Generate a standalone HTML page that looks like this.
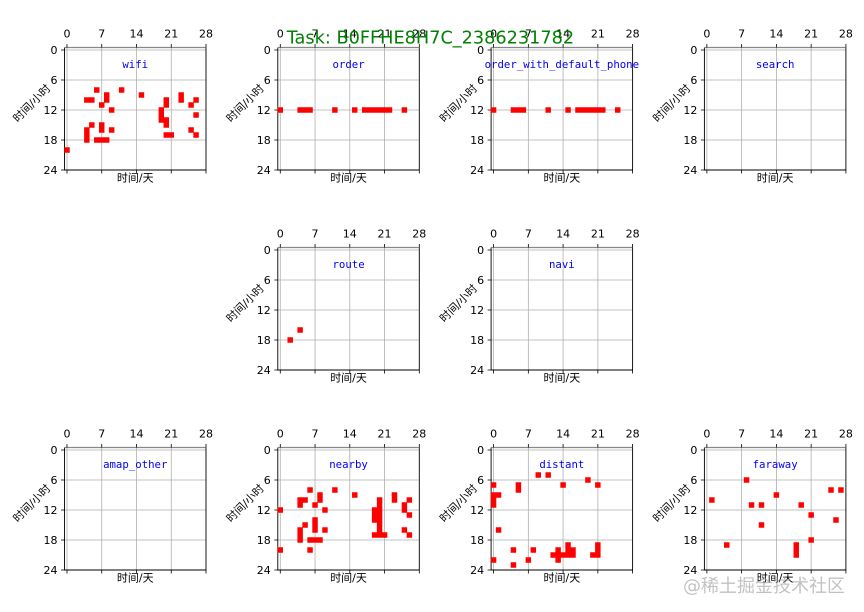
<!DOCTYPE html>
<html>
<head>
<meta charset="utf-8">
<style>
html,body{margin:0;padding:0;background:#fff;}
svg{display:block;}
.t{font-family:"DejaVu Sans","Liberation Sans",sans-serif;font-size:11px;fill:#000;}
.tm{text-anchor:middle;}
.te{text-anchor:end;}
.cj{font-family:"DejaVu Sans","Noto Sans CJK SC",sans-serif;font-size:11px;fill:#000;text-anchor:middle;}
.ti{font-family:"DejaVu Sans Mono","Liberation Mono",monospace;font-size:10.7px;fill:#0000ff;text-anchor:middle;}
</style>
</head>
<body>
<svg width="864" height="612" viewBox="0 0 864 612" xmlns="http://www.w3.org/2000/svg">
<rect width="864" height="612" fill="#fff"/>
<defs>
<g id="fr">
<path d="M2.48 0V122.5M37.24 0V122.5M71.99 0V122.5M106.75 0V122.5M0 2.5H141.5M0 32.5H141.5M0 62.5H141.5M0 92.5H141.5" stroke="#b0b0b0" stroke-width="0.8" fill="none"/>
<path d="M0 0V122.5H141.5V0" stroke="#000" stroke-width="0.9" fill="none"/>
<path d="M0 0H141.5" stroke="#888" stroke-width="1.3"/>
<path d="M2.48 0V-3.5M37.24 0V-3.5M71.99 0V-3.5M106.75 0V-3.5M141.5 0V-3.5M2.48 122.5V126M37.24 122.5V126M71.99 122.5V126M106.75 122.5V126M141.5 122.5V126M0 2.5H-3.5M0 32.5H-3.5M0 62.5H-3.5M0 92.5H-3.5M0 122.5H-3.5" stroke="#000" stroke-width="0.8"/>
</g>
</defs>

<use href="#fr" x="64.5" y="47.5"/>
<use href="#fr" x="277.8" y="47.5"/>
<use href="#fr" x="491.1" y="47.5"/>
<use href="#fr" x="704.4" y="47.5"/>
<use href="#fr" x="277.8" y="247.5"/>
<use href="#fr" x="491.1" y="247.5"/>
<use href="#fr" x="64.5" y="447.5"/>
<use href="#fr" x="277.8" y="447.5"/>
<use href="#fr" x="491.1" y="447.5"/>
<use href="#fr" x="704.4" y="447.5"/>

<g fill="#ff0000">
<path transform="translate(66.98,50) scale(4.965,5)" d="M-.55 19.45h1.1v1.1h-1.1zM5.45 7.45h1.1v1.1h-1.1zM3.45 9.45h1.1v1.1h-1.1zM4.45 9.45h1.1v1.1h-1.1zM6.45 10.45h1.1v1.1h-1.1zM7.45 8.45h1.1v2.1h-1.1zM8.45 11.45h1.1v1.1h-1.1zM10.45 7.45h1.1v1.1h-1.1zM14.45 8.45h1.1v1.1h-1.1zM4.45 14.45h1.1v1.1h-1.1zM3.45 15.45h1.1v3.1h-1.1zM6.45 14.45h1.1v2.1h-1.1zM5.45 17.45h3.1v1.1h-3.1zM8.45 15.45h1.1v1.1h-1.1zM19.45 9.45h1.1v2.1h-1.1zM18.45 11.45h1.1v3.1h-1.1zM19.45 13.45h1.1v2.1h-1.1zM19.45 16.45h2.1v1.1h-2.1zM22.45 8.45h1.1v2.1h-1.1zM24.45 10.45h1.1v1.1h-1.1zM25.45 9.45h1.1v1.1h-1.1zM25.45 12.45h1.1v1.1h-1.1zM24.45 15.45h1.1v1.1h-1.1zM25.45 16.45h1.1v1.1h-1.1z"/>
<path transform="translate(280.28,50) scale(4.965,5)" d="M-.55 11.45h1.1v1.1h-1.1zM3.45 11.45h3.1v1.1h-3.1zM10.45 11.45h1.1v1.1h-1.1zM14.45 11.45h1.1v1.1h-1.1zM16.45 11.45h6.1v1.1h-6.1zM24.45 11.45h1.1v1.1h-1.1z"/>
<path transform="translate(493.58,50) scale(4.965,5)" d="M-.55 11.45h1.1v1.1h-1.1zM3.45 11.45h3.1v1.1h-3.1zM10.45 11.45h1.1v1.1h-1.1zM14.45 11.45h1.1v1.1h-1.1zM16.45 11.45h6.1v1.1h-6.1zM24.45 11.45h1.1v1.1h-1.1z"/>
<path transform="translate(280.28,250) scale(4.965,5)" d="M1.45 17.45h1.1v1.1h-1.1zM3.45 15.45h1.1v1.1h-1.1z"/>
<path transform="translate(280.28,450) scale(4.965,5)" d="M-.55 11.45h1.1v1.1h-1.1zM-.55 19.45h1.1v1.1h-1.1zM5.45 7.45h1.1v1.1h-1.1zM3.45 9.45h2.1v1.1h-2.1zM3.45 10.45h1.1v1.1h-1.1zM6.45 10.45h1.1v1.1h-1.1zM7.45 8.45h1.1v2.1h-1.1zM8.45 11.45h1.1v1.1h-1.1zM10.45 7.45h1.1v1.1h-1.1zM14.45 8.45h1.1v1.1h-1.1zM4.45 14.45h1.1v1.1h-1.1zM3.45 15.45h1.1v3.1h-1.1zM6.45 13.45h1.1v3.1h-1.1zM5.45 17.45h3.1v1.1h-3.1zM5.45 19.45h1.1v1.1h-1.1zM8.45 15.45h1.1v1.1h-1.1zM19.45 9.45h1.1v8.1h-1.1zM18.45 11.45h1.1v3.1h-1.1zM18.45 16.45h1.1v1.1h-1.1zM20.45 16.45h1.1v1.1h-1.1zM22.45 8.45h1.1v2.1h-1.1zM24.45 10.45h1.1v2.1h-1.1zM25.45 9.45h1.1v1.1h-1.1zM25.45 12.45h1.1v1.1h-1.1zM24.45 15.45h1.1v1.1h-1.1zM25.45 16.45h1.1v1.1h-1.1z"/>
<path transform="translate(493.58,450) scale(4.965,5)" d="M-.55 6.45h1.1v1.1h-1.1zM-.55 8.45h1.1v3.1h-1.1zM.45 8.45h1.1v1.1h-1.1zM.45 15.45h1.1v1.1h-1.1zM-.55 21.45h1.1v1.1h-1.1zM4.45 6.45h1.1v2.1h-1.1zM3.45 19.45h1.1v1.1h-1.1zM3.45 22.45h1.1v1.1h-1.1zM6.45 21.45h1.1v1.1h-1.1zM7.45 19.45h1.1v1.1h-1.1zM8.45 4.45h1.1v1.1h-1.1zM10.45 4.45h1.1v1.1h-1.1zM13.45 6.45h1.1v1.1h-1.1zM18.45 5.45h1.1v1.1h-1.1zM20.45 6.45h1.1v1.1h-1.1zM14.45 18.45h1.1v2.1h-1.1zM15.45 19.45h1.1v1.1h-1.1zM12.45 19.45h1.1v3.1h-1.1zM11.45 20.45h5.1v1.1h-5.1zM20.45 18.45h1.1v3.1h-1.1zM19.45 20.45h1.1v1.1h-1.1z"/>
<path transform="translate(706.88,450) scale(4.965,5)" d="M.45 9.45h1.1v1.1h-1.1zM3.45 18.45h1.1v1.1h-1.1zM7.45 5.45h1.1v1.1h-1.1zM8.45 10.45h1.1v1.1h-1.1zM10.45 10.45h1.1v1.1h-1.1zM10.45 14.45h1.1v1.1h-1.1zM13.45 8.45h1.1v1.1h-1.1zM17.45 18.45h1.1v3.1h-1.1zM18.45 10.45h1.1v1.1h-1.1zM20.45 12.45h1.1v1.1h-1.1zM20.45 17.45h1.1v1.1h-1.1zM24.45 7.45h1.1v1.1h-1.1zM26.45 7.45h1.1v1.1h-1.1zM25.45 13.45h1.1v1.1h-1.1z"/>
</g>

<!-- wifi -->
<g class="t tm"><text x="66.98" y="37.5">0</text><text x="101.74" y="37.5">7</text><text x="136.49" y="37.5">14</text><text x="171.25" y="37.5">21</text><text x="206" y="37.5">28</text></g>
<g class="t te"><text x="57.5" y="54">0</text><text x="57.5" y="84">6</text><text x="57.5" y="114">12</text><text x="57.5" y="144">18</text><text x="57.5" y="174">24</text></g>
<text class="cj" x="135.25" y="181.5">时间/天</text>
<text class="cj" transform="translate(32,103.5) rotate(-45)" dominant-baseline="central">时间/小时</text>
<text class="ti" x="135.25" y="67.8">wifi</text>

<!-- order -->
<g class="t tm"><text x="280.28" y="37.5">0</text><text x="315.04" y="37.5">7</text><text x="349.79" y="37.5">14</text><text x="384.55" y="37.5">21</text><text x="419.3" y="37.5">28</text></g>
<g class="t te"><text x="270.8" y="54">0</text><text x="270.8" y="84">6</text><text x="270.8" y="114">12</text><text x="270.8" y="144">18</text><text x="270.8" y="174">24</text></g>
<text class="cj" x="348.55" y="181.5">时间/天</text>
<text class="cj" transform="translate(245.3,103.5) rotate(-45)" dominant-baseline="central">时间/小时</text>
<text class="ti" x="348.55" y="67.8">order</text>

<!-- order_with_default_phone -->
<g class="t tm"><text x="493.58" y="37.5">0</text><text x="528.34" y="37.5">7</text><text x="563.09" y="37.5">14</text><text x="597.85" y="37.5">21</text><text x="632.6" y="37.5">28</text></g>
<g class="t te"><text x="484.1" y="54">0</text><text x="484.1" y="84">6</text><text x="484.1" y="114">12</text><text x="484.1" y="144">18</text><text x="484.1" y="174">24</text></g>
<text class="cj" x="561.85" y="181.5">时间/天</text>
<text class="cj" transform="translate(458.6,103.5) rotate(-45)" dominant-baseline="central">时间/小时</text>
<text class="ti" x="561.85" y="67.8">order_with_default_phone</text>

<!-- search -->
<g class="t tm"><text x="706.88" y="37.5">0</text><text x="741.64" y="37.5">7</text><text x="776.39" y="37.5">14</text><text x="811.15" y="37.5">21</text><text x="845.9" y="37.5">28</text></g>
<g class="t te"><text x="697.4" y="54">0</text><text x="697.4" y="84">6</text><text x="697.4" y="114">12</text><text x="697.4" y="144">18</text><text x="697.4" y="174">24</text></g>
<text class="cj" x="775.15" y="181.5">时间/天</text>
<text class="cj" transform="translate(671.9,103.5) rotate(-45)" dominant-baseline="central">时间/小时</text>
<text class="ti" x="775.15" y="67.8">search</text>

<!-- route -->
<g class="t tm"><text x="280.28" y="237.5">0</text><text x="315.04" y="237.5">7</text><text x="349.79" y="237.5">14</text><text x="384.55" y="237.5">21</text><text x="419.3" y="237.5">28</text></g>
<g class="t te"><text x="270.8" y="254">0</text><text x="270.8" y="284">6</text><text x="270.8" y="314">12</text><text x="270.8" y="344">18</text><text x="270.8" y="374">24</text></g>
<text class="cj" x="348.55" y="381.5">时间/天</text>
<text class="cj" transform="translate(245.3,303.5) rotate(-45)" dominant-baseline="central">时间/小时</text>
<text class="ti" x="348.55" y="267.8">route</text>

<!-- navi -->
<g class="t tm"><text x="493.58" y="237.5">0</text><text x="528.34" y="237.5">7</text><text x="563.09" y="237.5">14</text><text x="597.85" y="237.5">21</text><text x="632.6" y="237.5">28</text></g>
<g class="t te"><text x="484.1" y="254">0</text><text x="484.1" y="284">6</text><text x="484.1" y="314">12</text><text x="484.1" y="344">18</text><text x="484.1" y="374">24</text></g>
<text class="cj" x="561.85" y="381.5">时间/天</text>
<text class="cj" transform="translate(458.6,303.5) rotate(-45)" dominant-baseline="central">时间/小时</text>
<text class="ti" x="561.85" y="267.8">navi</text>

<!-- amap_other -->
<g class="t tm"><text x="66.98" y="437.5">0</text><text x="101.74" y="437.5">7</text><text x="136.49" y="437.5">14</text><text x="171.25" y="437.5">21</text><text x="206" y="437.5">28</text></g>
<g class="t te"><text x="57.5" y="454">0</text><text x="57.5" y="484">6</text><text x="57.5" y="514">12</text><text x="57.5" y="544">18</text><text x="57.5" y="574">24</text></g>
<text class="cj" x="135.25" y="581.5">时间/天</text>
<text class="cj" transform="translate(32,503.5) rotate(-45)" dominant-baseline="central">时间/小时</text>
<text class="ti" x="135.25" y="467.8">amap_other</text>

<!-- nearby -->
<g class="t tm"><text x="280.28" y="437.5">0</text><text x="315.04" y="437.5">7</text><text x="349.79" y="437.5">14</text><text x="384.55" y="437.5">21</text><text x="419.3" y="437.5">28</text></g>
<g class="t te"><text x="270.8" y="454">0</text><text x="270.8" y="484">6</text><text x="270.8" y="514">12</text><text x="270.8" y="544">18</text><text x="270.8" y="574">24</text></g>
<text class="cj" x="348.55" y="581.5">时间/天</text>
<text class="cj" transform="translate(245.3,503.5) rotate(-45)" dominant-baseline="central">时间/小时</text>
<text class="ti" x="348.55" y="467.8">nearby</text>

<!-- distant -->
<g class="t tm"><text x="493.58" y="437.5">0</text><text x="528.34" y="437.5">7</text><text x="563.09" y="437.5">14</text><text x="597.85" y="437.5">21</text><text x="632.6" y="437.5">28</text></g>
<g class="t te"><text x="484.1" y="454">0</text><text x="484.1" y="484">6</text><text x="484.1" y="514">12</text><text x="484.1" y="544">18</text><text x="484.1" y="574">24</text></g>
<text class="cj" x="561.85" y="581.5">时间/天</text>
<text class="cj" transform="translate(458.6,503.5) rotate(-45)" dominant-baseline="central">时间/小时</text>
<text class="ti" x="561.85" y="467.8">distant</text>

<!-- faraway -->
<g class="t tm"><text x="706.88" y="437.5">0</text><text x="741.64" y="437.5">7</text><text x="776.39" y="437.5">14</text><text x="811.15" y="437.5">21</text><text x="845.9" y="437.5">28</text></g>
<g class="t te"><text x="697.4" y="454">0</text><text x="697.4" y="484">6</text><text x="697.4" y="514">12</text><text x="697.4" y="544">18</text><text x="697.4" y="574">24</text></g>
<text class="cj" x="775.15" y="581.5">时间/天</text>
<text class="cj" transform="translate(671.9,503.5) rotate(-45)" dominant-baseline="central">时间/小时</text>
<text class="ti" x="775.15" y="467.8">faraway</text>

<text x="286.7" y="43.7" font-family="DejaVu Sans, Liberation Sans, sans-serif" font-size="17.7" fill="#008000">Task: B0FFHE8H7C_2386231782</text>

<text x="683" y="592" font-family="DejaVu Sans, Noto Sans CJK SC, sans-serif" font-size="18" fill="#9a9a9a" fill-opacity="0.6">@稀土掘金技术社区</text>
</svg>
</body>
</html>
